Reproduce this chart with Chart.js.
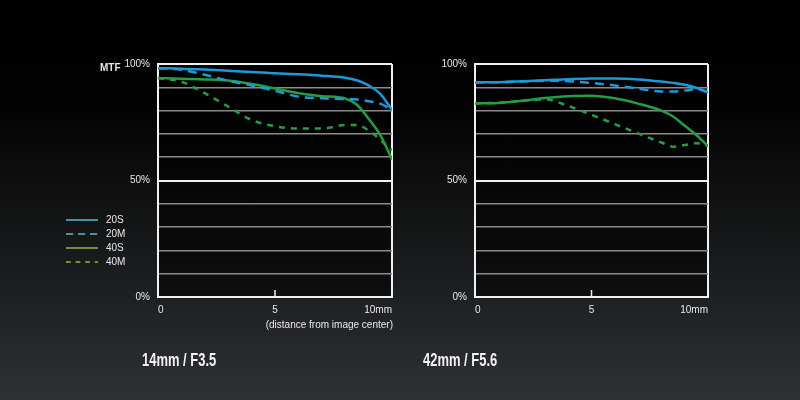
<!DOCTYPE html>
<html>
<head>
<meta charset="utf-8">
<script src="https://cdn.jsdelivr.net/npm/chart.js@4.4.1/dist/chart.umd.min.js"></script>
<style>
  html, body { margin: 0; padding: 0; }
  body {
    width: 800px; height: 400px; position: relative; overflow: hidden;
    background: linear-gradient(to bottom, #000 0%, #020202 25%, #2e3031 100%);
    font-family: "Liberation Sans", Arial, sans-serif;
  }
  .box { position: absolute; top: 0; width: 400px; height: 400px; }
  .lbl { position: absolute; color: #e8e8e8; font-size: 10px; line-height: 12px; white-space: nowrap; }
  .lens { position: absolute; color: #f2f2f2; font-size: 18px; line-height: 20px; font-weight: bold;
    font-family: "Liberation Sans", Arial, sans-serif; white-space: nowrap;
    transform-origin: left center; transform: scaleX(0.72); }
</style>
</head>
<body>
<div class="box" style="left:0"><canvas id="wideChart" width="400" height="400"></canvas></div>
<div class="box" style="left:400px"><canvas id="teleChart" width="400" height="400"></canvas></div>
<div class="lbl" style="left:100px; top:62px; font-weight:bold;">MTF</div>
<div class="lbl" style="right:407px; top:319px;">(distance from image center)</div>
<div class="lens" style="left:142px; top:350px;">14mm / F3.5</div>
<div class="lens" style="left:423px; top:350px;">42mm / F5.6</div>
<script>
// distancia desde el centro (mm)
const distance = [0, 1, 2, 3, 4, 5, 6, 7, 8, 8.5, 9, 9.5, 10];

// 14mm / F3.5
const wide20S = [98.2, 98.0, 97.6, 97.1, 96.6, 96.0, 95.6, 95.0, 94.1, 93.0, 90.8, 87.2, 80.3];
const wide20M = [98.2, 97.5, 95.4, 92.8, 90.8, 88.5, 86.0, 85.3, 85.0, 84.8, 84.0, 83.0, 80.3];
const wide40S = [93.9, 93.7, 93.4, 92.9, 91.4, 89.5, 87.5, 86.2, 85.2, 82.5, 76.5, 69.5, 59.0];
const wide40M = [94.0, 92.4, 87.5, 81.7, 76.0, 73.3, 72.3, 72.3, 73.8, 73.8, 71.5, 67.4, 63.0];

// 42mm / F5.6
const tele20S = [92.1, 92.2, 92.6, 93.0, 93.5, 93.8, 93.8, 93.4, 92.5, 91.9, 91.1, 89.8, 87.7];
const tele20M = [92.1, 92.2, 92.5, 92.8, 92.6, 91.9, 90.8, 89.5, 88.2, 88.2, 88.6, 89.2, 88.1];
const tele40S = [83.1, 83.3, 84.2, 85.4, 86.2, 86.4, 85.3, 83.0, 80.0, 77.5, 73.5, 69.5, 64.8];
const tele40M = [83.1, 83.4, 84.2, 84.8, 82.0, 78.2, 74.2, 70.2, 66.3, 64.5, 65.2, 66.0, 64.8];

const seriesNames = ['20S', '20M', '40S', '40M'];
const seriesColors = ['#1b9ad8', '#1b9ad8', '#22a040', '#22a040'];
const legendColors = ['#5ab6e0', '#5ab6e0', '#8cba3c', '#8cba3c'];
const seriesDash = [[], [9, 6], [], [6, 6]];

const yTickLabels = { 0: '0%', 50: '50%', 100: '100%' };
const tickFont = { family: '"Liberation Sans", Arial, sans-serif', size: 10 };

function makeDatasets(values) {
    return values.map((vals, i) => ({
        label: seriesNames[i],
        data: distance.map((d, j) => ({ x: d, y: vals[j] })),
        borderColor: seriesColors[i],
        borderDash: seriesDash[i],
        borderWidth: 2.5,
        pointRadius: 0,
        cubicInterpolationMode: 'monotone',
        fill: false
    }));
}

// fondo del área del gráfico y marca del 5
const plotDecor = {
    id: 'plotDecor',
    beforeDraw(chart) {
        const { ctx, chartArea: a } = chart;
        ctx.save();
        ctx.fillStyle = 'rgba(0,0,0,0.55)';
        ctx.fillRect(a.left, a.top, a.width, a.height);
        ctx.restore();
    },
    afterDraw(chart) {
        const { ctx, chartArea: a, scales } = chart;
        const x5 = scales.x.getPixelForValue(5);
        ctx.save();
        ctx.strokeStyle = '#f0f0f0';
        ctx.lineWidth = 1.5;
        ctx.beginPath();
        ctx.moveTo(x5, a.bottom);
        ctx.lineTo(x5, a.bottom - 7);
        ctx.stroke();
        ctx.restore();
    }
};

// leyenda a la izquierda
const sideLegend = {
    id: 'sideLegend',
    afterDraw(chart) {
        const ctx = chart.ctx;
        ctx.save();
        ctx.font = '10px "Liberation Sans", Arial, sans-serif';
        ctx.textBaseline = 'middle';
        chart.data.datasets.forEach((ds, i) => {
            const y = 220 + i * 14;
            ctx.strokeStyle = legendColors[i];
            ctx.lineWidth = 1.5;
            ctx.setLineDash(seriesDash[i].map(v => v * 0.8));
            ctx.beginPath();
            ctx.moveTo(66, y);
            ctx.lineTo(98, y);
            ctx.stroke();
            ctx.setLineDash([]);
            ctx.fillStyle = '#e6e6e6';
            ctx.fillText(ds.label, 106, y);
        });
        ctx.restore();
    }
};

function makeConfig(values, yWidth, padRight, extraPlugins) {
    return {
        type: 'line',
        data: { datasets: makeDatasets(values) },
        options: {
            responsive: false,
            animation: false,
            layout: { padding: { top: 64, right: padRight, bottom: 0, left: 0 } },
            plugins: { legend: { display: false }, tooltip: { enabled: false } },
            scales: {
                x: {
                    type: 'linear',
                    min: 0,
                    max: 10,
                    afterFit: s => { s.height = 103; },
                    border: { color: '#f0f0f0', width: 2 },
                    grid: {
                        drawTicks: false,
                        lineWidth: 2,
                        color: c => c.tick && c.tick.value === 10 ? '#f0f0f0' : 'rgba(0,0,0,0)'
                    },
                    ticks: {
                        stepSize: 5,
                        align: 'inner',
                        padding: 7,
                        color: '#e8e8e8',
                        font: tickFont,
                        callback: v => v === 10 ? '10mm' : String(v)
                    }
                },
                y: {
                    min: 0,
                    max: 100,
                    afterFit: s => { s.width = yWidth; },
                    border: { color: '#f0f0f0', width: 2 },
                    grid: {
                        drawTicks: false,
                        lineWidth: c => (c.tick && c.tick.value % 50 === 0) ? 2 : 1.5,
                        color: c => (c.tick && c.tick.value % 50 === 0) ? '#f0f0f0' : '#8a8a8a'
                    },
                    ticks: {
                        stepSize: 10,
                        padding: 8,
                        autoSkip: false,
                        color: '#e8e8e8',
                        font: tickFont,
                        callback: v => yTickLabels[v] || ''
                    }
                }
            }
        },
        plugins: [plotDecor].concat(extraPlugins)
    };
}

const wideCtx = document.getElementById('wideChart').getContext('2d');
new Chart(wideCtx, makeConfig([wide20S, wide20M, wide40S, wide40M], 158, 8, [sideLegend]));

const teleCtx = document.getElementById('teleChart').getContext('2d');
new Chart(teleCtx, makeConfig([tele20S, tele20M, tele40S, tele40M], 75, 92, []));
</script>
</body>
</html>
